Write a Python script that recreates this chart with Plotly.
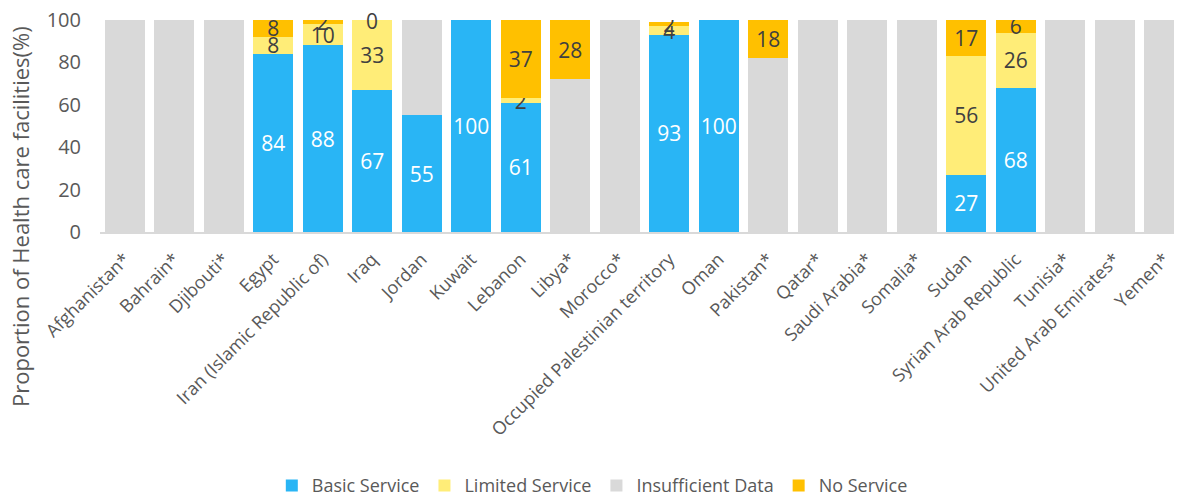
import plotly.graph_objects as go

countries = [
    "Afghanistan*", "Bahrain*", "Djibouti*", "Egypt", "Iran (Islamic Republic of)",
    "Iraq", "Jordan", "Kuwait", "Lebanon", "Libya*", "Morocco*",
    "Occupied Palestinian territory", "Oman", "Pakistan*", "Qatar*",
    "Saudi Arabia*", "Somalia*", "Sudan", "Syrian Arab Republic", "Tunisia*",
    "United Arab Emirates*", "Yemen*",
]

basic = [None, None, None, 84, 88, 67, 55, 100, 61, None, None, 93, 100, None, None, None, None, 27, 68, None, None, None]
limited = [None, None, None, 8, 10, 33, None, None, 2, None, None, 4, None, None, None, None, None, 56, 26, None, None, None]
insufficient = [100, 100, 100, None, None, None, 45, None, None, 72, 100, None, None, 82, 100, 100, 100, None, None, 100, 100, 100]
no_service = [None, None, None, 8, 2, 0, None, None, 37, 28, None, 2, None, 18, None, None, None, 17, 6, None, None, None]

y_ticks = [0, 20, 40, 60, 80, 100]

FONT = "Open Sans"
GREY = "#595959"
DARK = "#404040"

fig = go.Figure()

series = [
    ("Basic Service", basic, "#29B5F5", "white", True),
    ("Limited Service", limited, "#FFED78", DARK, True),
    ("Insufficient Data", insufficient, "#D9D9D9", DARK, False),
    ("No Service", no_service, "#FFC000", DARK, True),
]

for name, vals, color, tcolor, show_text in series:
    fig.add_trace(go.Bar(
        x=countries,
        y=vals,
        name=name,
        marker=dict(color=color, line=dict(width=0)),
        text=[("" if v is None else str(v)) for v in vals] if show_text else None,
        textposition="inside" if show_text else "none",
        insidetextanchor="middle",
        textangle=0,
        textfont=dict(family=FONT, size=21, color=tcolor),
        hoverinfo="x+y+name",
    ))

# the zero value of Iraq "No Service" still carries a label at the top of the stack
iraq = countries.index("Iraq")
fig.add_annotation(
    x=countries[iraq], y=100, text=str(no_service[iraq]), showarrow=False,
    yanchor="middle", yshift=-1, font=dict(family=FONT, size=21, color=DARK),
)

# y axis title, placed like the original (not centred on the plot area)
fig.add_annotation(
    xref="paper", yref="paper", x=-0.074, y=0.075,
    text="Proportion of Health care facilities(%)", textangle=-90,
    showarrow=False, xanchor="center", yanchor="middle",
    font=dict(family=FONT, size=22, color=GREY),
)

# the page body has an 8px margin, so the figure is sized to fill the rest of the window
fig.update_layout(
    barmode="stack",
    bargap=0.19,
    width=1174,
    height=491,
    margin=dict(l=92, r=0, t=12, b=267, autoexpand=False),
    plot_bgcolor="white",
    paper_bgcolor="white",
    font=dict(family=FONT, color=GREY),
    uniformtext=dict(minsize=21, mode="show"),
    showlegend=True,
    legend=dict(
        orientation="h", x=0.455, xanchor="center",
        yref="container", y=0.027, yanchor="middle",
        font=dict(family=FONT, size=18, color=GREY), traceorder="normal",
    ),
    xaxis=dict(
        range=[-0.5, 21.36],
        automargin=False,
        tickangle=-45,
        tickfont=dict(family=FONT, size=18, color=GREY),
        showline=True, linecolor="#D9D9D9", linewidth=1.5,
        showgrid=False, ticks="", ticklabelstandoff=8,
        ticklabeloverflow="allow",
    ),
    yaxis=dict(
        range=[0, 100],
        automargin=False,
        tickvals=y_ticks,
        tickfont=dict(family=FONT, size=20, color=GREY),
        showgrid=False, zeroline=False, showline=False,
        ticks="", ticklabelstandoff=18,
        ticklabeloverflow="allow",
    ),
)

fig.write_html("out.html")
